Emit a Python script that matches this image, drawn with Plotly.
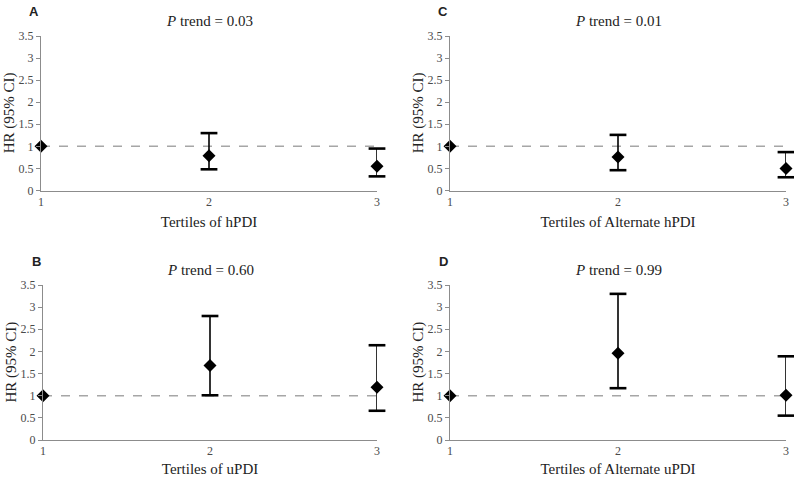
import plotly.graph_objects as go

W, H = 794, 477

tertiles = [1, 2, 3]
panel_letters = ["A", "C", "B", "D"]
p_trend = ["0.03", "0.01", "0.60", "0.99"]
x_titles = ["Tertiles of hPDI", "Tertiles of Alternate hPDI",
            "Tertiles of uPDI", "Tertiles of Alternate uPDI"]
hr_A = [1.0, 0.79, 0.55]
lo_A = [None, 0.48, 0.32]
hi_A = [None, 1.30, 0.95]
hr_C = [1.0, 0.76, 0.50]
lo_C = [None, 0.46, 0.30]
hi_C = [None, 1.26, 0.87]
hr_B = [1.0, 1.68, 1.19]
lo_B = [None, 1.01, 0.66]
hi_B = [None, 2.80, 2.14]
hr_D = [1.0, 1.96, 1.01]
lo_D = [None, 1.17, 0.55]
hi_D = [None, 3.30, 1.89]
y_ticks = [0, 0.5, 1, 1.5, 2, 2.5, 3, 3.5]
y_tick_labels = ["0", "0.5", "1", "1.5", "2", "2.5", "3", "3.5"]
reference_hr = 1

panels = [(hr_A, lo_A, hi_A), (hr_C, lo_C, hi_C), (hr_B, lo_B, hi_B), (hr_D, lo_D, hi_D)]

# pixel boxes of plot areas: (left, right, top, bottom)
boxes = [(41, 377, 36, 190.5), (450, 786, 36, 190.5),
         (43, 377, 285, 440), (450, 786, 285, 440)]

serif = "Liberation Serif, Times New Roman, serif"
sans = "Liberation Sans, Arial, sans-serif"
grey_axis = "#8c8c8c"
tick_font_color = "#4a4a4a"

fig = go.Figure()
layout = dict(
    template="none",
    width=W, height=H, margin=dict(l=0, r=0, t=0, b=0, autoexpand=False),
    paper_bgcolor="white", plot_bgcolor="white", showlegend=False,
    font=dict(family=serif, color="#222"),
)
annotations = []

for i, ((hr, lo, hi), (l, r, t, b)) in enumerate(zip(panels, boxes)):
    n = "" if i == 0 else str(i + 1)
    xa, ya = "x" + n, "y" + n
    # reference line
    fig.add_trace(go.Scatter(x=[tertiles[0], tertiles[-1]], y=[reference_hr, reference_hr],
                             mode="lines", xaxis=xa, yaxis=ya,
                             line=dict(color="#a6a6a6", width=1.5, dash="dash"),
                             hoverinfo="skip"))
    idx = [k for k in range(len(tertiles)) if lo[k] is not None]
    xs = [tertiles[k] for k in idx]
    # error bars
    fig.add_trace(go.Scatter(x=xs, y=[hr[k] for k in idx], mode="markers",
                             marker=dict(size=1, color="rgba(0,0,0,0)"),
                             xaxis=xa, yaxis=ya,
                             error_y=dict(type="data", symmetric=False,
                                          array=[hi[k] - hr[k] for k in idx],
                                          arrayminus=[hr[k] - lo[k] for k in idx],
                                          color="black", thickness=1.6, width=0)))
    # caps
    fig.add_trace(go.Scatter(x=xs + xs, y=[lo[k] for k in idx] + [hi[k] for k in idx],
                             mode="markers", xaxis=xa, yaxis=ya, cliponaxis=False,
                             marker=dict(symbol="line-ew", size=12,
                                         line=dict(color="black", width=2.6))))
    # points
    fig.add_trace(go.Scatter(x=tertiles, y=hr, mode="markers", xaxis=xa, yaxis=ya,
                             cliponaxis=False,
                             marker=dict(symbol="diamond", size=10, color="black")))

    xkey = "xaxis" + n
    ykey = "yaxis" + n
    layout[xkey] = dict(
        domain=[l / W, r / W], range=[1, 3], anchor=ya, automargin=False,
        tickvals=tertiles, ticktext=[str(v) for v in tertiles],
        showline=True, linecolor=grey_axis, linewidth=1, ticks="",
        showgrid=False, zeroline=False,
        tickfont=dict(family=serif, size=12, color=tick_font_color),
        title=dict(text=x_titles[i], font=dict(family=serif, size=15, color="#222"),
                   standoff=8),
    )
    layout[ykey] = dict(
        domain=[1 - b / H, 1 - t / H], range=[0, 3.5], anchor=xa, automargin=False,
        tickvals=y_ticks, ticktext=y_tick_labels,
        showline=True, linecolor=grey_axis, linewidth=1,
        ticks="outside", ticklen=4, tickcolor=grey_axis,
        showgrid=False, zeroline=False,
        tickfont=dict(family=serif, size=12, color=tick_font_color),
    )
    # y title
    annotations.append(dict(text="HR (95% CI)", textangle=-90, xref="paper", yref="paper",
                            x=(l - 32) / W, y=1 - ((t + b) / 2) / H, showarrow=False,
                            font=dict(family=serif, size=15, color="#222"),
                            xanchor="center", yanchor="middle"))
    # p trend
    annotations.append(dict(text="<i>P</i> trend = " + p_trend[i], xref="paper", yref="paper",
                            x=((l + r) / 2) / W, y=1 - (t - 15) / H, showarrow=False,
                            font=dict(family=serif, size=15, color="#222"),
                            xanchor="center", yanchor="middle"))
    # panel letter
    annotations.append(dict(text="<b>" + panel_letters[i] + "</b>", xref="paper", yref="paper",
                            x=(l - 7) / W, y=1 - (t - 24) / H, showarrow=False,
                            font=dict(family=sans, size=13, color="#222"),
                            xanchor="center", yanchor="middle"))

layout["annotations"] = annotations
fig.update_layout(**layout)
fig.write_html("out.html", config={"displayModeBar": False},
               post_script="document.body.style.margin='0';document.body.style.overflow='hidden';")
